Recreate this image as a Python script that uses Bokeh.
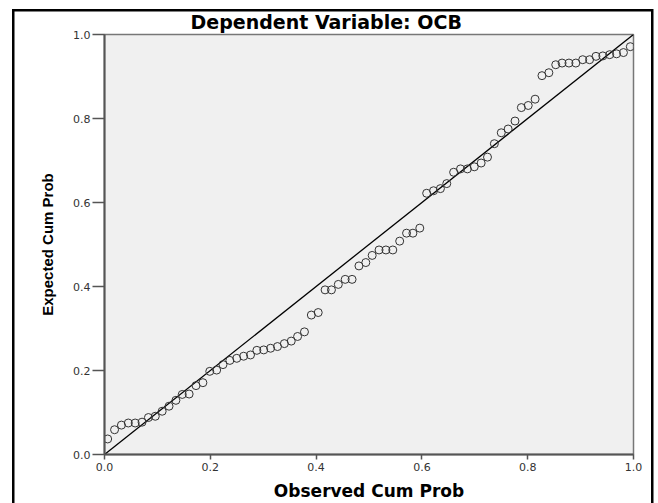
from bokeh.plotting import figure
from bokeh.models import Range1d, FixedTicker, NumeralTickFormatter
from bokeh.embed import file_html
from bokeh.resources import INLINE

# Observed cumulative probability (x) and expected cumulative probability (y)
observed = [0.006, 0.019, 0.032, 0.045, 0.058, 0.071, 0.083, 0.096, 0.109, 0.122,
            0.135, 0.147, 0.160, 0.173, 0.186, 0.199, 0.212, 0.224, 0.237, 0.250,
            0.263, 0.276, 0.288, 0.301, 0.314, 0.327, 0.340, 0.353, 0.365, 0.378,
            0.391, 0.404, 0.417, 0.429, 0.442, 0.455, 0.468, 0.481, 0.494, 0.506,
            0.519, 0.532, 0.545, 0.558, 0.571, 0.583, 0.596, 0.609, 0.622, 0.635,
            0.647, 0.660, 0.673, 0.686, 0.699, 0.712, 0.724, 0.737, 0.750, 0.763,
            0.776, 0.788, 0.801, 0.814, 0.827, 0.840, 0.853, 0.865, 0.878, 0.891,
            0.904, 0.917, 0.929, 0.942, 0.955, 0.968, 0.981, 0.994]
expected = [0.037, 0.059, 0.070, 0.075, 0.075, 0.077, 0.088, 0.091, 0.103, 0.115,
            0.129, 0.143, 0.144, 0.164, 0.171, 0.198, 0.201, 0.214, 0.224, 0.229,
            0.234, 0.237, 0.248, 0.249, 0.253, 0.257, 0.264, 0.270, 0.281, 0.292,
            0.332, 0.338, 0.392, 0.392, 0.405, 0.417, 0.417, 0.449, 0.457, 0.474,
            0.487, 0.487, 0.487, 0.508, 0.527, 0.527, 0.539, 0.622, 0.628, 0.633,
            0.645, 0.672, 0.680, 0.680, 0.685, 0.694, 0.708, 0.740, 0.766, 0.775,
            0.794, 0.826, 0.831, 0.846, 0.902, 0.909, 0.928, 0.932, 0.932, 0.932,
            0.940, 0.940, 0.948, 0.949, 0.952, 0.954, 0.957, 0.971]
ref_line_x = [0.0, 1.0]
ref_line_y = [0.0, 1.0]
tick_values = [0.0, 0.2, 0.4, 0.6, 0.8, 1.0]

p = figure(width=658, height=503, output_backend="svg", toolbar_location=None,
           x_range=Range1d(0, 1), y_range=Range1d(0, 1),
           min_border_left=104, min_border_right=25, min_border_top=34, min_border_bottom=48,
           title="Dependent Variable: OCB")

# outer black chart border (drawn behind a transparent canvas border area)
p.styles = {
    "background-color": "white",
    "background-image": "linear-gradient(#000,#000), linear-gradient(#000,#000), linear-gradient(#000,#000)",
    "background-size": "641px 2.5px, 2.5px 600px, 2.5px 600px",
    "background-position": "12px 9px, 12px 9px, 651px 9px",
    "background-repeat": "no-repeat",
}

p.background_fill_color = "#f0f0f0"
p.border_fill_color = None
p.outline_line_color = "#777777"
p.outline_line_width = 1.5
p.grid.visible = False

p.title.align = "left"
p.title.offset = 86
p.title.text_font = "DejaVu Sans"
p.title.text_font_style = "bold"
p.title.text_font_size = "19px"
p.title.text_color = "black"
p.title.standoff = 4

for ax in (p.xaxis[0], p.yaxis[0]):
    ax.ticker = FixedTicker(ticks=tick_values)
    ax.formatter = NumeralTickFormatter(format="0.0")
    ax.minor_tick_line_color = None
    ax.major_tick_in = 0
    ax.axis_line_color = "#555555"
    ax.axis_line_width = 2
    ax.major_tick_line_color = "#555555"
    ax.major_tick_line_width = 1.5
    ax.major_label_text_font = "DejaVu Sans"
    ax.major_label_text_font_size = "11px"
    ax.major_label_text_color = "#333333"
    ax.axis_label_text_font_style = "bold"
    ax.axis_label_text_color = "black"

p.xaxis[0].major_tick_out = 5
p.xaxis[0].major_label_standoff = 3
p.xaxis[0].axis_label = "Observed Cum Prob"
p.xaxis[0].axis_label_text_font = "DejaVu Sans"
p.xaxis[0].axis_label_text_font_size = "17px"
p.xaxis[0].axis_label_standoff = 7

p.yaxis[0].major_tick_out = 12
p.yaxis[0].major_label_standoff = 2
p.yaxis[0].axis_label = "Expected Cum Prob"
p.yaxis[0].axis_label_text_font = "Liberation Sans"
p.yaxis[0].axis_label_text_font_size = "15px"
p.yaxis[0].axis_label_standoff = 14

p.line(ref_line_x, ref_line_y, line_color="black", line_width=1.3)
p.scatter(observed, expected, size=8, marker="circle", fill_color=None,
          line_color="#333333", line_width=1)

open("out.html", "w").write(file_html(p, INLINE))
